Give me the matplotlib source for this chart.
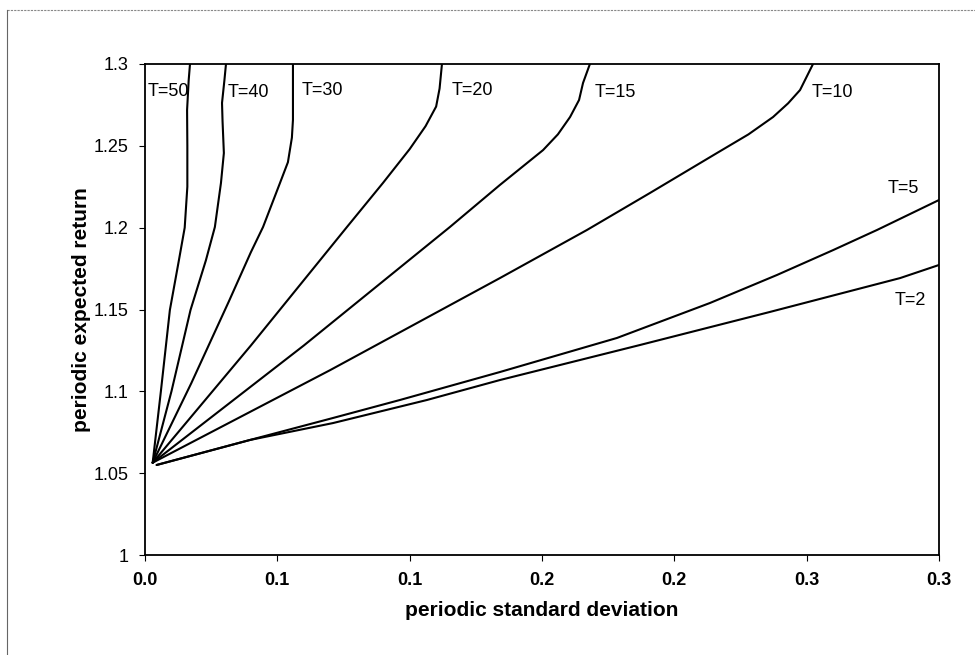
import matplotlib
matplotlib.use("Agg")
import matplotlib.pyplot as plt
from matplotlib.lines import Line2D

plt.rcParams['font.family'] = ['Liberation Sans', 'DejaVu Sans']

# ---- data ----
x_ticks = [0.0, 0.05, 0.10, 0.15, 0.20, 0.25, 0.30]
x_tick_labels = ["0.0", "0.1", "0.1", "0.2", "0.2", "0.3", "0.3"]
y_ticks = [1.0, 1.05, 1.10, 1.15, 1.20, 1.25, 1.30]
y_tick_labels = ["1", "1.05", "1.1", "1.15", "1.2", "1.25", "1.3"]

t50_x = [0.0029, 0.0060, 0.0094, 0.0128, 0.0150, 0.0160, 0.0160, 0.0159, 0.0165, 0.0170]
t50_y = [1.0564, 1.1000, 1.1497, 1.1800, 1.2000, 1.2250, 1.2500, 1.2719, 1.2900, 1.3000]

t40_x = [0.0029, 0.0100, 0.0172, 0.0230, 0.0264, 0.0287, 0.0298, 0.0293, 0.0291, 0.0300, 0.0306]
t40_y = [1.0564, 1.1000, 1.1497, 1.1800, 1.2004, 1.2273, 1.2456, 1.2650, 1.2762, 1.2900, 1.3000]

t30_x = [0.0029, 0.0175, 0.0317, 0.0400, 0.0446, 0.0510, 0.0540, 0.0555, 0.0559, 0.0559]
t30_y = [1.0564, 1.1050, 1.1550, 1.1850, 1.2004, 1.2273, 1.2400, 1.2550, 1.2658, 1.3000]

t20_x = [0.0029, 0.0400, 0.0763, 0.0899, 0.1000, 0.1060, 0.1100, 0.1113, 0.1122]
t20_y = [1.0564, 1.1280, 1.2004, 1.2273, 1.2480, 1.2620, 1.2740, 1.2850, 1.3000]

t15_x = [0.0029, 0.0600, 0.1152, 0.1341, 0.1504, 0.1560, 0.1606, 0.1640, 0.1655, 0.1681]
t15_y = [1.0564, 1.1280, 1.2004, 1.2261, 1.2474, 1.2570, 1.2676, 1.2780, 1.2884, 1.3000]

t10_x = [0.0029, 0.0700, 0.1341, 0.1670, 0.1908, 0.2161, 0.2280, 0.2373, 0.2430, 0.2475, 0.2524]
t10_y = [1.0564, 1.1130, 1.1692, 1.1986, 1.2212, 1.2456, 1.2570, 1.2676, 1.2760, 1.2841, 1.3000]

t5_x = [0.0044, 0.0397, 0.0710, 0.0963, 0.1341, 0.1783, 0.2135, 0.2388, 0.2600, 0.2766, 0.3000]
t5_y = [1.0550, 1.0703, 1.0837, 1.0947, 1.1118, 1.1326, 1.1540, 1.1711, 1.1863, 1.1986, 1.2169]

t2_x = [0.0044, 0.0397, 0.0710, 0.1065, 0.1341, 0.1870, 0.2361, 0.2853, 0.3000]
t2_y = [1.0550, 1.0703, 1.0806, 1.0947, 1.1069, 1.1283, 1.1485, 1.1692, 1.1772]

labels = ["T=50", "T=40", "T=30", "T=20", "T=15", "T=10", "T=5", "T=2"]
label_x = [0.0011, 0.0314, 0.0593, 0.1160, 0.1700, 0.2520, 0.2807, 0.2834]
label_y = [1.2829, 1.2823, 1.2841, 1.2841, 1.2823, 1.2823, 1.2242, 1.1558]

series = [(t50_x, t50_y), (t40_x, t40_y), (t30_x, t30_y), (t20_x, t20_y),
          (t15_x, t15_y), (t10_x, t10_y), (t5_x, t5_y), (t2_x, t2_y)]

# ---- figure ----
fig = plt.figure(figsize=(9.75, 6.55), dpi=100)
ax = fig.add_axes([145/975, 100/655, 794/975, 491/655])

for xs, ys in series:
    ax.plot(xs, ys, color='black', lw=1.5, solid_joinstyle='round',
            solid_capstyle='round', clip_on=True)

for lab, lx, ly in zip(labels, label_x, label_y):
    ax.text(lx, ly, lab, fontsize=13, ha='left', va='center', color='black')

ax.set_xlim(0, 0.3)
ax.set_ylim(1.0, 1.3)
ax.set_xticks(x_ticks)
ax.set_xticklabels(x_tick_labels, fontsize=13, fontweight='bold')
ax.set_yticks(y_ticks)
ax.set_yticklabels(y_tick_labels, fontsize=13)
ax.tick_params(direction='out', length=4, width=0.8, pad=8)

for sp in ax.spines.values():
    sp.set_linewidth(1.3)
    sp.set_color('black')

ax.set_xlabel("periodic standard deviation", fontsize=15, fontweight='bold', labelpad=9)
ax.set_ylabel("periodic expected return", fontsize=15, fontweight='bold', labelpad=2)

# outer chart-area border (top and left)
fig.add_artist(Line2D([7/975, 1.0], [1 - 10/655, 1 - 10/655], transform=fig.transFigure,
                      color='#888888', lw=0.8, ls=(0, (2, 1))))
fig.add_artist(Line2D([7/975, 7/975], [0.0, 1 - 10/655], transform=fig.transFigure,
                      color='#666666', lw=0.8))

fig.savefig("out.png", dpi=100)
